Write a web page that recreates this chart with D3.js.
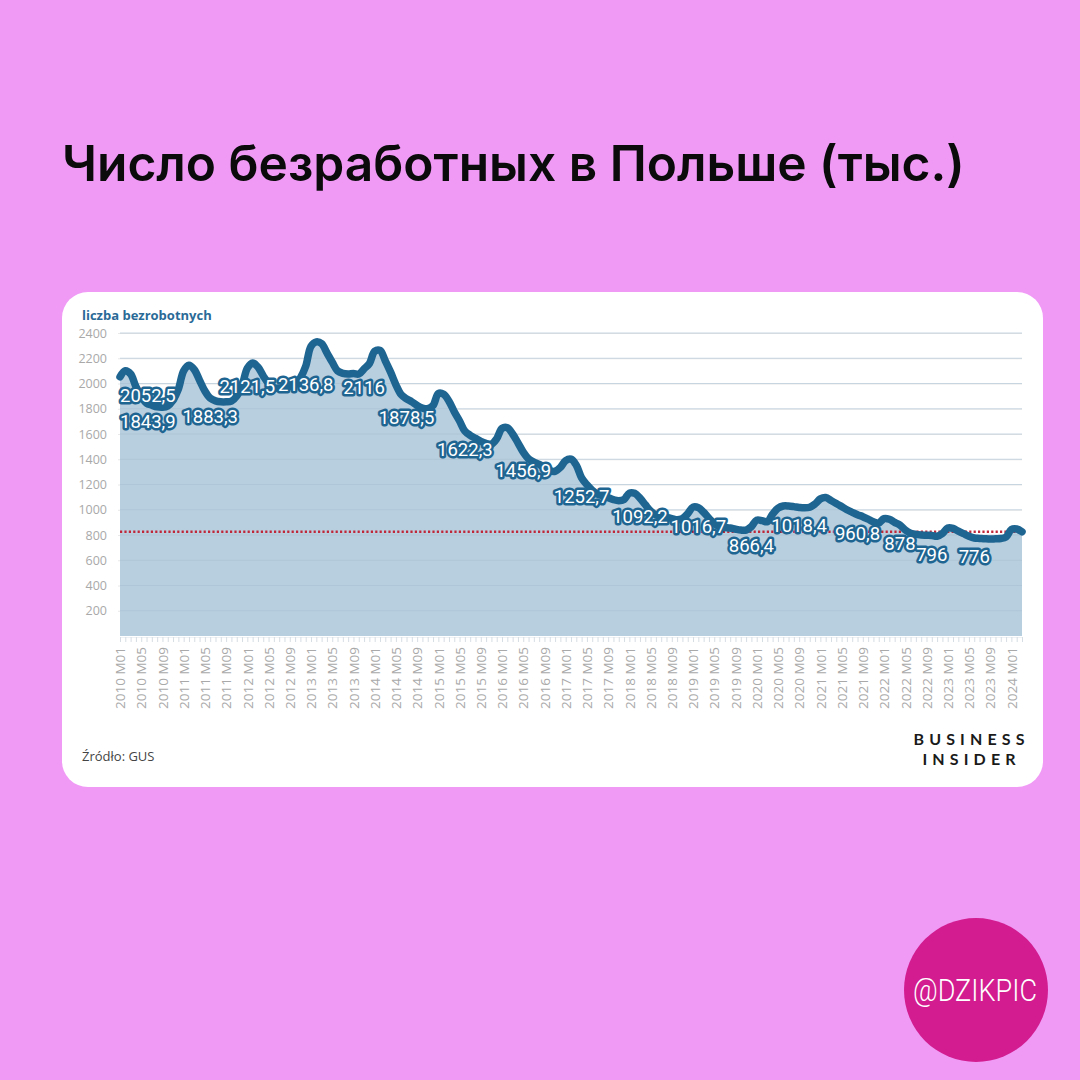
<!DOCTYPE html>
<html>
<head>
<meta charset="utf-8">
<script src="https://cdn.jsdelivr.net/npm/d3@7/dist/d3.min.js"></script>
<style>
    html, body { margin: 0; padding: 0; background: #f09af6; }
    svg { display: block; }
</style>
</head>
<body>
<div id="chart"></div>
<script>
// dane: liczba bezrobotnych (tys.), GUS, 2010 M01 - 2024 M03
const years = d3.range(2010, 2025);
const monthCodes = ["M01","M02","M03","M04","M05","M06","M07","M08","M09","M10","M11","M12"];

const values = [
    2052.5, 2101.0, 2075.0, 1975.0, 1900.0, 1843.9, 1828.0, 1815.0, 1812.0, 1822.0, 1868.0, 1954.7, // 2010
    2100.0, 2145.0, 2110.0, 2025.0, 1940.0, 1883.3, 1862.0, 1855.0, 1855.0, 1860.0, 1900.0, 1982.7, // 2011
    2121.5, 2163.0, 2130.0, 2060.0, 2000.0, 1965.0, 1965.0, 1968.0, 1975.0, 1990.0, 2045.0, 2136.8, // 2012
    2295.7, 2330.0, 2315.0, 2243.0, 2169.0, 2100.0, 2080.0, 2075.0, 2079.0, 2075.0, 2116.0, 2157.9, // 2013
    2255.0, 2262.0, 2180.0, 2090.0, 1990.0, 1912.0, 1878.5, 1855.0, 1825.0, 1805.0, 1800.0, 1825.2, // 2014
    1921.0, 1915.0, 1860.0, 1776.0, 1703.0, 1622.3, 1590.0, 1566.0, 1541.0, 1525.0, 1520.0, 1563.3, // 2015
    1645.0, 1650.0, 1600.0, 1530.0, 1456.9, 1403.0, 1378.0, 1360.0, 1334.0, 1310.0, 1305.0, 1335.2, // 2016
    1390.0, 1401.0, 1353.0, 1252.7, 1198.0, 1154.0, 1124.0, 1109.0, 1096.0, 1080.0, 1072.0, 1081.7, // 2017
    1131.9, 1130.0, 1092.2, 1040.0, 990.0, 960.0, 950.0, 940.0, 930.0, 920.0, 930.0, 968.9,         // 2018
    1021.0, 1016.7, 980.0, 933.0, 890.0, 866.0, 860.0, 855.0, 846.0, 839.0, 839.0, 866.4,           // 2019
    918.0, 914.0, 905.0, 965.0, 1012.0, 1030.0, 1030.0, 1025.0, 1018.4, 1015.0, 1020.0, 1046.4,     // 2020
    1086.0, 1096.6, 1074.0, 1050.0, 1025.0, 1000.0, 980.0, 960.8, 945.0, 925.0, 905.0, 895.2,       // 2021
    930.0, 925.0, 900.0, 878.0, 840.0, 815.0, 805.0, 800.0, 798.0, 796.0, 790.0, 812.3,             // 2022
    855.0, 852.0, 830.0, 810.0, 790.0, 776.0, 773.0, 770.0, 768.0, 770.0, 772.0, 784.1,             // 2023
    843.3, 847.6, 825.4                                                                            // 2024
];

// punkty z etykietami (indeksy miesięcy)
const labelIdx = [0, 5, 17, 24, 35, 46, 54, 65, 76, 87, 98, 109, 119, 128, 139, 147, 153, 161];
const yTicks = [200, 400, 600, 800, 1000, 1200, 1400, 1600, 1800, 2000, 2200, 2400];
const refValue = 825.4;

const categories = [];
years.forEach(y => monthCodes.forEach(m => categories.push(y + " " + m)));
categories.length = values.length;

const W = 1080, H = 1080;
const lineColor = "#1f6592",
      fillColor = "#b8cfdf",
      gridColor = "#e8e8e8",
      axisText = "#a9a9a9";

const svg = d3.select("#chart").append("svg")
    .attr("width", W).attr("height", H);

svg.append("rect").attr("width", W).attr("height", H).attr("fill", "#f09af6");

// tytuł
const title = svg.append("text")
    .attr("x", 62).attr("y", 181)
    .style("font-family", "Inter, 'Open Sans', sans-serif")
    .style("font-weight", 600)
    .style("font-size", "46px")
    .attr("fill", "#0b0b0b")
    .text("Число безработных в Польше (тыс.)");
const tw = title.node().getComputedTextLength();
title.style("font-size", (46 * 903 / tw) + "px");

// karta
svg.append("rect")
    .attr("x", 62).attr("y", 292).attr("width", 981).attr("height", 495)
    .attr("rx", 26).attr("fill", "#fff");

svg.append("text")
    .attr("x", 82).attr("y", 320)
    .style("font-family", "'Open Sans', sans-serif")
    .style("font-weight", 700).style("font-size", "13px")
    .attr("fill", "#2a6a97")
    .text("liczba bezrobotnych");

const x = d3.scalePoint().domain(categories).range([120, 1022]);
const y = d3.scaleLinear().domain([0, 2400]).range([636, 333]);

// siatka + oś Y
const yAxis = svg.append("g")
    .attr("transform", "translate(118,0)")
    .call(d3.axisLeft(y).tickValues(yTicks).tickFormat(d3.format("d"))
        .tickSize(-(1022 - 118)).tickPadding(11));
yAxis.select(".domain").remove();
yAxis.selectAll("line").attr("stroke", gridColor);
yAxis.selectAll("text")
    .attr("fill", axisText)
    .style("font-family", "'Open Sans', sans-serif")
    .style("font-size", "12.5px");

// obszar
const curve = d3.curveCatmullRom.alpha(0.5);
const area = d3.area()
    .x((d, i) => x(categories[i]))
    .y0(y(0))
    .y1(d => y(d))
    .curve(curve);

const line = d3.line()
    .x((d, i) => x(categories[i]))
    .y(d => y(d))
    .curve(curve);

svg.append("path")
    .datum(values)
    .attr("d", area)
    .attr("fill", fillColor);

// linie siatki na obszarze
svg.append("g").selectAll("line")
    .data(yTicks)
    .join("line")
    .attr("x1", 120).attr("x2", 1022)
    .attr("y1", d => y(d)).attr("y2", d => y(d))
    .attr("stroke", "#a9c1d3").attr("stroke-width", 1).attr("opacity", 0.6);

// oś X
const xAxis = svg.append("g")
    .attr("transform", "translate(0," + (y(0) + 1) + ")")
    .call(d3.axisBottom(x).tickSize(5).tickPadding(6)
        .tickFormat((d, i) => i % 4 === 0 ? d : ""));
xAxis.select(".domain").attr("stroke", "#eef2f5");
xAxis.selectAll("line").attr("stroke", "#d6dde3");
xAxis.selectAll("text")
    .attr("fill", axisText)
    .style("font-family", "'Open Sans', sans-serif")
    .style("font-size", "13.5px")
    .attr("text-anchor", "end")
    .attr("transform", "rotate(-90)")
    .attr("x", -10).attr("y", 0).attr("dy", "0.35em");

// linia odniesienia
svg.append("line")
    .attr("x1", 120).attr("x2", 1022)
    .attr("y1", y(refValue)).attr("y2", y(refValue))
    .attr("stroke", "#c0283a").attr("stroke-width", 2.4)
    .attr("stroke-dasharray", "2.2,2.2");

svg.append("path")
    .datum(values)
    .attr("d", line)
    .attr("fill", "none")
    .attr("stroke", lineColor)
    .attr("stroke-width", 7.5)
    .attr("stroke-linejoin", "round")
    .attr("stroke-linecap", "round");

// etykiety danych
const fmt = v => String(v).replace(".", ",");
const labels = svg.append("g").selectAll("text")
    .data(labelIdx)
    .join("text")
    .attr("x", i => x(categories[i]))
    .attr("y", i => y(values[i]) + 25)
    .attr("text-anchor", "middle")
    .style("font-family", "Roboto, sans-serif")
    .style("font-weight", 400)
    .style("font-size", "18.5px")
    .style("paint-order", "stroke")
    .attr("stroke", lineColor)
    .attr("stroke-width", 5)
    .attr("stroke-linejoin", "round")
    .attr("fill", "#fff")
    .text(i => fmt(values[i]));

// przesunięcie etykiet przy krawędziach (jak justify)
labels.each(function () {
    const bb = this.getBBox();
    const el = d3.select(this);
    if (bb.x < 120) el.attr("x", +el.attr("x") + (120 - bb.x));
    if (bb.x + bb.width > 1022) el.attr("x", +el.attr("x") - (bb.x + bb.width - 1022));
});

// źródło
svg.append("text")
    .attr("x", 82).attr("y", 761)
    .style("font-family", "'Open Sans', sans-serif")
    .style("font-size", "13px")
    .attr("fill", "#444")
    .text("Źródło: GUS");

svg.append("text")
    .attr("x", 969).attr("y", 745)
    .attr("text-anchor", "middle")
    .attr("textLength", 111).attr("lengthAdjust", "spacing")
    .style("font-family", "Lato, 'Open Sans', sans-serif")
    .style("font-weight", 700).style("font-size", "16px")
    .attr("fill", "#1a1a1a")
    .text("BUSINESS");
svg.append("text")
    .attr("x", 969).attr("y", 765)
    .attr("text-anchor", "middle")
    .attr("textLength", 93).attr("lengthAdjust", "spacing")
    .style("font-family", "Lato, 'Open Sans', sans-serif")
    .style("font-weight", 700).style("font-size", "16px")
    .attr("fill", "#1a1a1a")
    .text("INSIDER");

// znaczek
svg.append("circle")
    .attr("cx", 976).attr("cy", 990).attr("r", 72)
    .attr("fill", "#d21c90");
svg.append("text")
    .attr("x", 975).attr("y", 1001)
    .attr("text-anchor", "middle")
    .attr("textLength", 124).attr("lengthAdjust", "spacingAndGlyphs")
    .style("font-family", "Roboto, sans-serif")
    .style("font-weight", 300).style("font-size", "31px")
    .attr("fill", "#fff")
    .text("@DZIKPIC");
</script>
</body>
</html>
